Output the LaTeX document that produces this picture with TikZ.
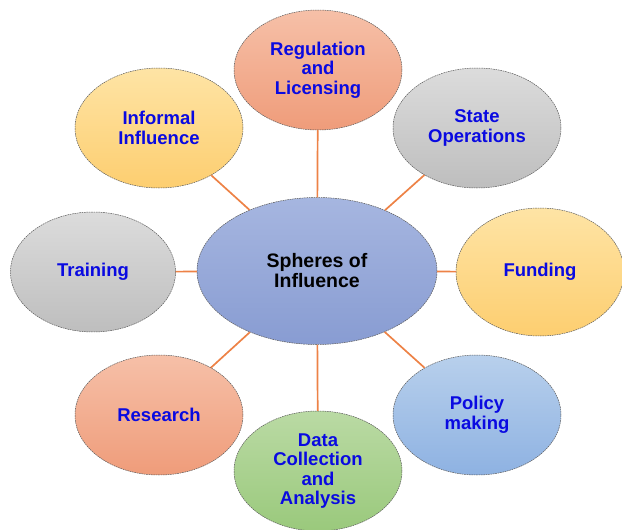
\documentclass[tikz,border=0pt]{standalone}
\usepackage{fontspec}
\setmainfont{Liberation Sans}
\usetikzlibrary{shapes.geometric}

\definecolor{labelblue}{RGB}{10,10,225}
\definecolor{linkorange}{RGB}{237,130,70}
\definecolor{salmontop}{RGB}{246,192,168}
\definecolor{salmonbot}{RGB}{239,156,122}
\definecolor{yellowtop}{RGB}{254,228,165}
\definecolor{yellowbot}{RGB}{253,206,112}
\definecolor{greytop}{RGB}{220,220,220}
\definecolor{greybot}{RGB}{190,190,190}
\definecolor{bluetop}{RGB}{184,208,236}
\definecolor{bluebot}{RGB}{142,178,226}
\definecolor{greentop}{RGB}{186,218,164}
\definecolor{greenbot}{RGB}{154,201,124}
\definecolor{hubtop}{RGB}{166,182,224}
\definecolor{hubbot}{RGB}{136,156,210}

\begin{document}
\begin{tikzpicture}[
        x=1pt, y=-1pt,
        semithick ,
        sphere/.style ={ellipse, draw=gray!70!black, dash pattern=on 1.6pt off 0.8pt, line width=0.5pt,
            inner sep=0pt, minimum width=168pt, minimum height=120pt, align=center,
            text=labelblue, font=\fontsize{18.5}{19.5}\selectfont\bfseries},
        salmon/.style ={sphere, top color=salmontop, bottom color=salmonbot},
        yellow/.style ={sphere, top color=yellowtop, bottom color=yellowbot},
        grey/.style ={sphere, top color=greytop, bottom color=greybot},
        sky/.style ={sphere, top color=bluetop, bottom color=bluebot},
        leaf/.style ={sphere, top color=greentop, bottom color=greenbot},
        link/.style ={draw=linkorange, line width=1.7pt},
    ]
    \useasboundingbox (0,0) rectangle (622,530);

    \node[sphere, top color=hubtop, bottom color=hubbot, text=black,
          minimum width=240pt, minimum height=147pt,
          font=\fontsize{19.5}{20}\selectfont\bfseries] (hub) at (317,271) {Spheres of\\Influence};

    \node[salmon] (reg) at (318,70) {Regulation\\and\\Licensing};
    \node[grey] (state) at (477,128) {State\\Operations};
    \node[yellow, minimum height=128pt] (fund) at (540,272) {Funding};
    \node[sky] (policy) at (477,415) {Policy\\making};
    \node[leaf] (data) at (318,471) {Data\\Collection\\and\\Analysis};
    \node[salmon] (research) at (159,415) {Research};
    \node[grey, minimum width=165pt] (train) at (93,272) {Training};
    \node[yellow] (informal) at (159,128) {Informal\\Influence};

    \path[link] (hub) edge (reg);
    \path[link] (hub) edge (state);
    \path[link] (hub) edge (fund);
    \path[link] (hub) edge (policy);
    \path[link] (hub) edge (data);
    \path[link] (hub) edge (research);
    \path[link] (hub) edge (train);
    \path[link] (hub) edge (informal);

\end{tikzpicture}
\end{document}
